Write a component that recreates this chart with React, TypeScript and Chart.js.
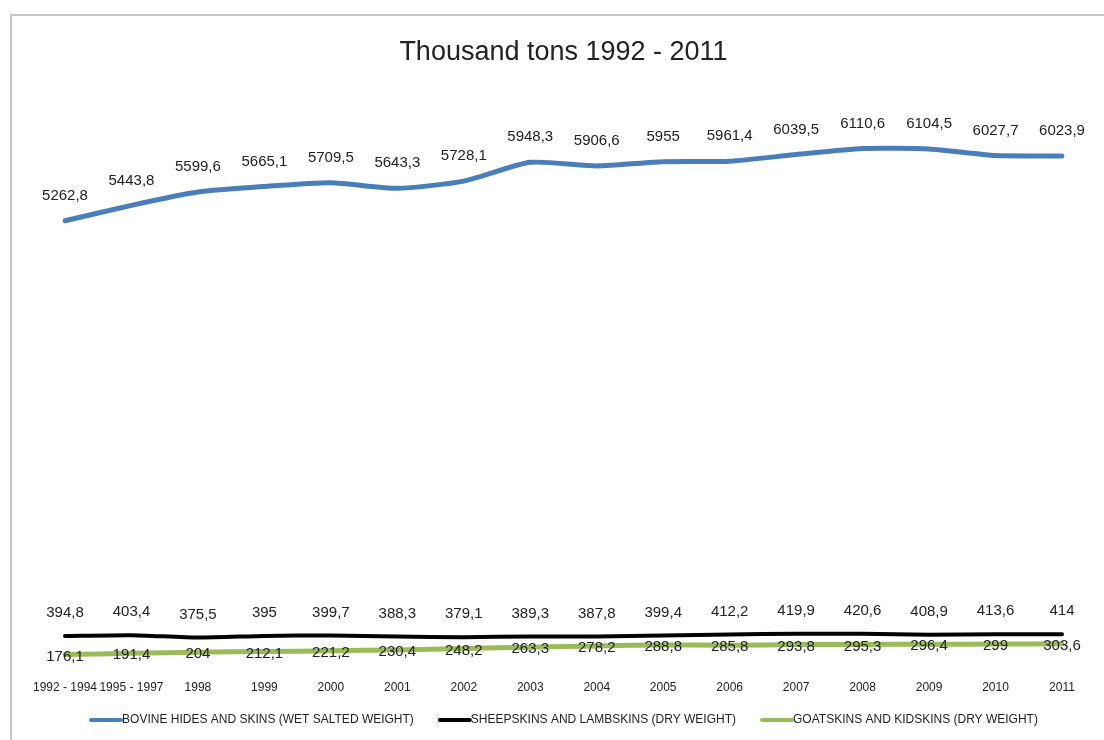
import React, { useEffect, useRef } from "react";
import { Chart, registerables } from "chart.js";

Chart.register(...registerables);

const categories = [
  "1992 - 1994", "1995 - 1997", "1998", "1999", "2000", "2001", "2002", "2003",
  "2004", "2005", "2006", "2007", "2008", "2009", "2010", "2011",
];
const bovine = [5262.8, 5443.8, 5599.6, 5665.1, 5709.5, 5643.3, 5728.1, 5948.3, 5906.6, 5955, 5961.4, 6039.5, 6110.6, 6104.5, 6027.7, 6023.9];
const sheep = [394.8, 403.4, 375.5, 395, 399.7, 388.3, 379.1, 389.3, 387.8, 399.4, 412.2, 419.9, 420.6, 408.9, 413.6, 414];
const goat = [176.1, 191.4, 204, 212.1, 221.2, 230.4, 248.2, 263.3, 278.2, 288.8, 285.8, 293.8, 295.3, 296.4, 299, 303.6];
const seriesNames = [
  "BOVINE HIDES AND SKINS (WET SALTED WEIGHT)",
  "SHEEPSKINS AND LAMBSKINS (DRY WEIGHT)",
  "GOATSKINS AND KIDSKINS (DRY WEIGHT)",
];
const titleText = "Thousand tons 1992 - 2011";

const FONT = '"Liberation Sans", Arial, Helvetica, sans-serif';
const labelOffsets = [-25, -23, 2];

const dataLabelPlugin = {
  id: "dataLabels",
  afterDatasetsDraw(chart: any) {
    const ctx = chart.ctx;
    ctx.save();
    ctx.font = `15px ${FONT}`;
    ctx.fillStyle = "#222";
    ctx.textAlign = "center";
    ctx.textBaseline = "middle";
    chart.data.datasets.forEach((ds: any, i: number) => {
      const meta = chart.getDatasetMeta(i);
      meta.data.forEach((pt: any, j: number) => {
        const v = ds.data[j];
        ctx.fillText(String(v).replace(".", ","), pt.x, pt.y + labelOffsets[i]);
      });
    });
    ctx.restore();
  },
};

const lineLegendPlugin = {
  id: "lineLegend",
  afterDraw(chart: any) {
    const ctx = chart.ctx;
    const lineLen = 33;
    const gap = 24;
    const y = 720;
    ctx.save();
    ctx.font = `12px ${FONT}`;
    const items = chart.data.datasets.map((ds: any) => ({
      text: ds.label,
      color: ds.borderColor,
      w: ctx.measureText(ds.label).width,
    }));
    const total = items.reduce((s: number, it: any) => s + lineLen + it.w, 0) + gap * (items.length - 1);
    const center = (chart.chartArea.left + chart.chartArea.right) / 2;
    let x = center - total / 2;
    items.forEach((it: any) => {
      ctx.strokeStyle = it.color;
      ctx.lineWidth = 4;
      ctx.lineCap = "round";
      ctx.beginPath();
      ctx.moveTo(x + 2, y);
      ctx.lineTo(x + lineLen - 1, y);
      ctx.stroke();
      ctx.fillStyle = "#222";
      ctx.textAlign = "left";
      ctx.textBaseline = "middle";
      ctx.fillText(it.text, x + lineLen, y);
      x += lineLen + it.w + gap;
    });
    ctx.restore();
  },
};

export default function App() {
  const ref = useRef<HTMLCanvasElement | null>(null);

  useEffect(() => {
    if (!ref.current) return;
    const chart = new Chart(ref.current, {
      type: "line",
      data: {
        labels: categories,
        datasets: [
          { label: seriesNames[0], data: bovine, borderColor: "#4a7ebb", backgroundColor: "#4a7ebb", borderWidth: 5 },
          { label: seriesNames[1], data: sheep, borderColor: "#000000", backgroundColor: "#000000", borderWidth: 4 },
          { label: seriesNames[2], data: goat, borderColor: "#9bbb59", backgroundColor: "#9bbb59", borderWidth: 5 },
        ],
      },
      options: {
        animation: false,
        responsive: false,
        maintainAspectRatio: false,
        layout: { padding: { left: 65, right: 42, top: 20, bottom: 34 } },
        elements: {
          point: { radius: 0, hoverRadius: 0 },
          line: { tension: 0.2, borderCapStyle: "round", borderJoinStyle: "round", fill: false },
        },
        scales: {
          x: {
            offset: false,
            grid: { display: false, drawTicks: false },
            border: { display: false },
            ticks: { padding: 11, color: "#222", font: { family: FONT, size: 12 }, maxRotation: 0, autoSkip: false },
          },
          y: {
            display: false,
            min: 0,
            max: 6745,
          },
        },
        plugins: {
          title: {
            display: true,
            text: titleText,
            color: "#222",
            font: { family: FONT, size: 27, weight: "normal" },
            padding: { top: 16, bottom: 26 },
          },
          legend: { display: false },
          tooltip: { enabled: false },
        },
      },
      plugins: [dataLabelPlugin, lineLegendPlugin],
    });
    return () => chart.destroy();
  }, []);

  return (
    <div style={{ position: "fixed", inset: 0, overflow: "hidden", background: "#fff" }}>
      <div
        style={{
          position: "absolute",
          left: 10,
          top: 14,
          width: 1200,
          height: 900,
          border: "2px solid #c4c4c4",
          boxSizing: "border-box",
        }}
      />
      <canvas ref={ref} width={1104} height={740} style={{ position: "absolute", left: 0, top: 0, width: 1104, height: 740 }} />
    </div>
  );
}
